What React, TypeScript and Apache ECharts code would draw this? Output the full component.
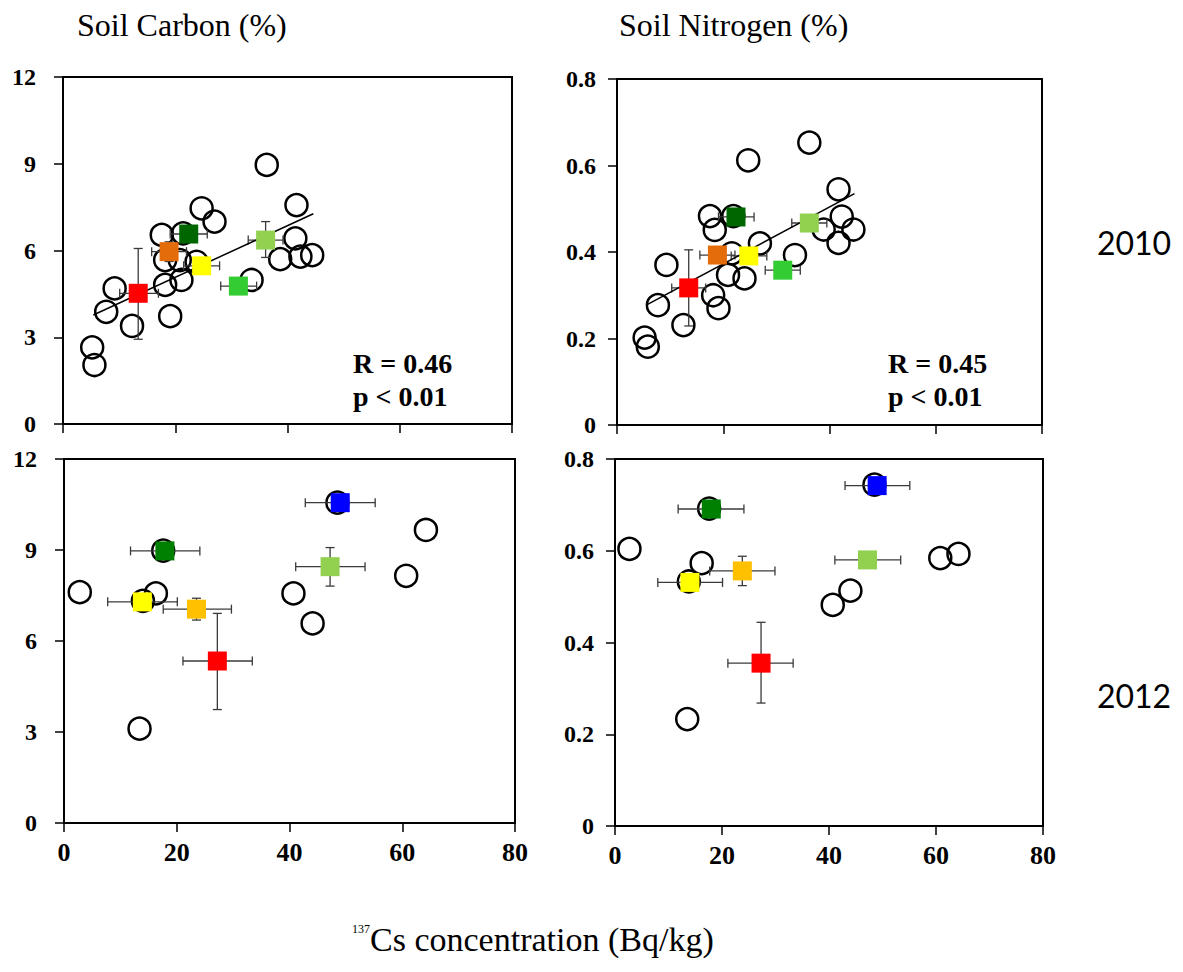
import React, { useEffect, useRef } from "react";
import * as echarts from "echarts";

// ---- 2010 Soil Carbon (open circles) ----
const c10x = [36.3, 41.6, 24.7, 27.0, 17.6, 21.4, 41.4, 18.2, 20.8, 23.8, 38.7, 42.3, 44.4, 21.1, 18.2, 33.6, 9.2, 7.7, 19.1, 12.3, 5.2, 5.6];
const c10y = [8.96, 7.57, 7.46, 7.0, 6.54, 6.59, 6.42, 5.67, 5.67, 5.61, 5.70, 5.79, 5.84, 4.98, 4.81, 4.98, 4.69, 3.88, 3.73, 3.39, 2.65, 2.04];
// ---- 2010 Soil Nitrogen (open circles) ----
const n10x = [36.2, 24.7, 41.7, 17.5, 21.9, 42.3, 18.4, 38.9, 44.5, 41.7, 26.9, 21.6, 33.5, 20.9, 24.0, 9.3, 18.1, 19.1, 7.7, 12.5, 5.2, 5.8];
const n10y = [0.653, 0.612, 0.545, 0.483, 0.483, 0.482, 0.451, 0.452, 0.452, 0.421, 0.420, 0.397, 0.393, 0.347, 0.339, 0.370, 0.300, 0.270, 0.277, 0.231, 0.202, 0.181];
// ---- 2012 Soil Carbon (open circles) ----
const c12x = [48.5, 64.2, 17.6, 60.7, 2.8, 16.3, 40.7, 14.0, 44.1, 13.4];
const c12y = [10.56, 9.66, 8.98, 8.15, 7.61, 7.57, 7.57, 7.32, 6.58, 3.11];
// ---- 2012 Soil Nitrogen (open circles) ----
const n12x = [48.5, 17.6, 2.7, 64.2, 60.8, 16.2, 13.8, 44.0, 40.7, 13.5];
const n12y = [0.744, 0.692, 0.604, 0.593, 0.584, 0.573, 0.533, 0.513, 0.482, 0.233];

// ---- group means (squares) with error bars ----
const col2010 = ["#FF0000", "#E46C0A", "#006600", "#FFFF00", "#33CC33", "#92D050"];
const col2012 = ["#0000FF", "#008000", "#92D050", "#FFFF00", "#FFC000", "#FF0000"];

const sqC10x = [13.4, 18.9, 22.4, 24.7, 31.25, 36.1];
const sqC10y = [4.52, 5.96, 6.57, 5.47, 4.77, 6.36];
const sqC10xLo = [10.1, 15.8, 19.1, 21.5, 28.1, 33.0];
const sqC10xHi = [17.0, 22.0, 25.7, 27.9, 34.5, 39.2];
const sqC10yLo = [2.93, 5.62, 6.35, 5.25, 4.6, 5.76];
const sqC10yHi = [6.07, 6.3, 6.8, 5.7, 4.95, 7.0];

const sqN10x = [13.5, 18.9, 22.4, 24.8, 31.2, 36.2];
const sqN10y = [0.317, 0.393, 0.481, 0.391, 0.358, 0.467];
const sqN10xLo = [10.3, 15.6, 19.1, 21.5, 27.9, 32.9];
const sqN10xHi = [16.7, 22.2, 25.8, 28.2, 34.5, 39.5];
const sqN10yLo = [0.229, 0.38, 0.47, 0.38, 0.35, 0.455];
const sqN10yHi = [0.405, 0.405, 0.49, 0.40, 0.37, 0.48];

const sqC12x = [49.0, 17.9, 47.2, 13.9, 23.5, 27.2];
const sqC12y = [10.56, 8.97, 8.45, 7.29, 7.05, 5.34];
const sqC12xLo = [42.8, 11.8, 41.1, 7.75, 17.6, 21.1];
const sqC12xHi = [55.2, 24.1, 53.4, 20.1, 29.7, 33.4];
const sqC12yLo = [10.4, 8.8, 7.81, 7.1, 6.69, 3.74];
const sqC12yHi = [10.7, 9.1, 9.08, 7.45, 7.41, 6.91];

const sqN12x = [49.0, 18.0, 47.2, 14.0, 23.8, 27.3];
const sqN12y = [0.742, 0.691, 0.580, 0.531, 0.556, 0.355];
const sqN12xLo = [43.0, 11.8, 41.1, 8.0, 17.7, 21.1];
const sqN12xHi = [55.1, 24.1, 53.4, 20.1, 29.9, 33.3];
const sqN12yLo = [0.73, 0.68, 0.57, 0.52, 0.524, 0.268];
const sqN12yHi = [0.755, 0.70, 0.59, 0.54, 0.588, 0.444];

// ---- regression lines (2010) ----
const fitC10x = [5.4, 44.6];
const fitC10y = [3.77, 7.27];
const fitN10x = [5.5, 44.7];
const fitN10y = [0.277, 0.535];

// ---- texts ----
const xTicks = [0, 20, 40, 60, 80];
const carbonTicks = { min: 0, max: 12, interval: 3 };
const nitrogenTicks = { min: 0, max: 0.8, interval: 0.2 };
const stats10C = ["R = 0.46", "p < 0.01"];
const stats10N = ["R = 0.45", "p < 0.01"];

const serif = "Liberation Serif, Times New Roman, Times, serif";
const sans = "Lato, Open Sans, sans-serif";

function zip(a: number[], b: number[]) {
  return a.map((v, i) => [v, b[i]]);
}

export default function App() {
  const ref = useRef<HTMLDivElement>(null);

  useEffect(() => {
    document.body.style.margin = "0";
    const chart = echarts.init(ref.current!, undefined, { renderer: "svg" });

    const grids = [
      { left: 63, top: 77, width: 449, height: 347 },
      { left: 617, top: 79, width: 425, height: 346 },
      { left: 64, top: 459, width: 451, height: 364 },
      { left: 615, top: 459, width: 428, height: 367 },
    ].map((g) => ({ ...g, show: true, borderColor: "#000", borderWidth: 2, backgroundColor: "transparent" }));

    const xAxes = [0, 1, 2, 3].map((i) => ({
      type: "value",
      gridIndex: i,
      min: xTicks[0],
      max: xTicks[xTicks.length - 1],
      interval: 20,
      axisLine: { show: true, onZero: false, lineStyle: { color: "#000", width: 2 } },
      axisTick: { show: true, inside: false, length: 9, lineStyle: { color: "#000", width: 1.5 } },
      splitLine: { show: false },
      axisLabel: {
        show: i >= 2,
        color: "#000",
        fontFamily: serif,
        fontWeight: "bold",
        fontSize: 26,
        margin: 16,
        formatter: (v: number) => `{t|${v}}`,
        rich: { t: { fontFamily: serif, fontWeight: "bold", fontSize: 26, color: "#000" } },
      },
    }));

    const yAxes = [0, 1, 2, 3].map((i) => {
      const t = i % 2 === 0 ? carbonTicks : nitrogenTicks;
      return {
        type: "value",
        gridIndex: i,
        min: t.min,
        max: t.max,
        interval: t.interval,
        axisLine: { show: true, onZero: false, lineStyle: { color: "#000", width: 2 } },
        axisTick: { show: true, inside: false, length: 9, lineStyle: { color: "#000", width: 1.5 } },
        splitLine: { show: false },
        axisLabel: {
          color: "#000",
          fontFamily: serif,
          fontWeight: "bold",
          fontSize: 24,
          margin: i % 2 === 0 ? 27 : 21,
          formatter: (v: number) =>
            `{t|${i % 2 === 0 ? String(Math.round(v)) : v === 0 ? "0" : v.toFixed(1)}}`,
          rich: { t: { fontFamily: serif, fontWeight: "bold", fontSize: 24, color: "#000" } },
        },
      };
    });

    const circleSeries = (idx: number, xs: number[], ys: number[]) => ({
      type: "scatter",
      xAxisIndex: idx,
      yAxisIndex: idx,
      symbol: "circle",
      symbolSize: 22,
      z: 2,
      itemStyle: { color: "rgba(0,0,0,0)", borderColor: "#000", borderWidth: 2.5, opacity: 1 },
      data: zip(xs, ys),
    });

    const errSeries = (
      idx: number,
      xs: number[],
      ys: number[],
      xl: number[],
      xh: number[],
      yl: number[],
      yh: number[]
    ) => ({
      type: "custom",
      xAxisIndex: idx,
      yAxisIndex: idx,
      z: 3,
      data: xs.map((x, i) => [x, ys[i], xl[i], xh[i], yl[i], yh[i]]),
      renderItem: (params: any, api: any) => {
        const x = api.value(0);
        const y = api.value(1);
        const pL = api.coord([api.value(2), y]);
        const pR = api.coord([api.value(3), y]);
        const pB = api.coord([x, api.value(4)]);
        const pT = api.coord([x, api.value(5)]);
        const c = 4.5;
        const st = { stroke: "#3a3a3a", lineWidth: 1.3 };
        const ln = (x1: number, y1: number, x2: number, y2: number) => ({
          type: "line",
          shape: { x1, y1, x2, y2 },
          style: st,
        });
        return {
          type: "group",
          children: [
            ln(pL[0], pL[1], pR[0], pR[1]),
            ln(pL[0], pL[1] - c, pL[0], pL[1] + c),
            ln(pR[0], pR[1] - c, pR[0], pR[1] + c),
            ln(pB[0], pB[1], pT[0], pT[1]),
            ln(pB[0] - c, pB[1], pB[0] + c, pB[1]),
            ln(pT[0] - c, pT[1], pT[0] + c, pT[1]),
          ],
        };
      },
    });

    const squareSeries = (idx: number, xs: number[], ys: number[], cols: string[]) => ({
      type: "scatter",
      xAxisIndex: idx,
      yAxisIndex: idx,
      symbol: "rect",
      symbolSize: 19,
      z: 5,
      data: xs.map((x, i) => ({ value: [x, ys[i]], itemStyle: { color: cols[i], opacity: 1 } })),
    });

    const fitSeries = (idx: number, xs: number[], ys: number[]) => ({
      type: "line",
      xAxisIndex: idx,
      yAxisIndex: idx,
      z: 3,
      symbol: "none",
      lineStyle: { color: "#000", width: 1.5 },
      data: zip(xs, ys),
    });

    const txt = (
      x: number,
      y: number,
      text: string,
      fontSize: number,
      fontFamily: string,
      fontWeight: string,
      align: string = "left"
    ) => ({
      type: "text",
      x,
      y,
      z: 10,
      style: {
        text,
        fill: "#000",
        fontSize,
        fontFamily,
        fontWeight,
        align,
        textAlign: align,
        verticalAlign: "middle",
        textVerticalAlign: "middle",
      },
    });

    chart.setOption({
      animation: false,
      backgroundColor: "#fff",
      textStyle: { fontFamily: serif },
      grid: grids,
      xAxis: xAxes,
      yAxis: yAxes,
      series: [
        circleSeries(0, c10x, c10y),
        fitSeries(0, fitC10x, fitC10y),
        errSeries(0, sqC10x, sqC10y, sqC10xLo, sqC10xHi, sqC10yLo, sqC10yHi),
        squareSeries(0, sqC10x, sqC10y, col2010),

        circleSeries(1, n10x, n10y),
        fitSeries(1, fitN10x, fitN10y),
        errSeries(1, sqN10x, sqN10y, sqN10xLo, sqN10xHi, sqN10yLo, sqN10yHi),
        squareSeries(1, sqN10x, sqN10y, col2010),

        circleSeries(2, c12x, c12y),
        errSeries(2, sqC12x, sqC12y, sqC12xLo, sqC12xHi, sqC12yLo, sqC12yHi),
        squareSeries(2, sqC12x, sqC12y, col2012),

        circleSeries(3, n12x, n12y),
        errSeries(3, sqN12x, sqN12y, sqN12xLo, sqN12xHi, sqN12yLo, sqN12yHi),
        squareSeries(3, sqN12x, sqN12y, col2012),
      ],
      graphic: [
        txt(77, 25, "Soil Carbon (%)", 32, serif, "normal"),
        txt(619, 25, "Soil Nitrogen (%)", 32, serif, "normal"),
        txt(353, 363, stats10C[0], 28, serif, "bold"),
        txt(353, 396, stats10C[1], 28, serif, "bold"),
        txt(888, 363, stats10N[0], 28, serif, "bold"),
        txt(888, 396, stats10N[1], 28, serif, "bold"),
        txt(1134, 242, "2010", 32, sans, "normal", "center"),
        txt(1134, 695, "2012", 32, sans, "normal", "center"),
        txt(352, 929, "137", 12, serif, "normal"),
        txt(370, 939, "Cs concentration (Bq/kg)", 34, serif, "normal"),
      ],
    });

    return () => chart.dispose();
  }, []);

  return <div ref={ref} style={{ width: 1183, height: 972 }} />;
}
